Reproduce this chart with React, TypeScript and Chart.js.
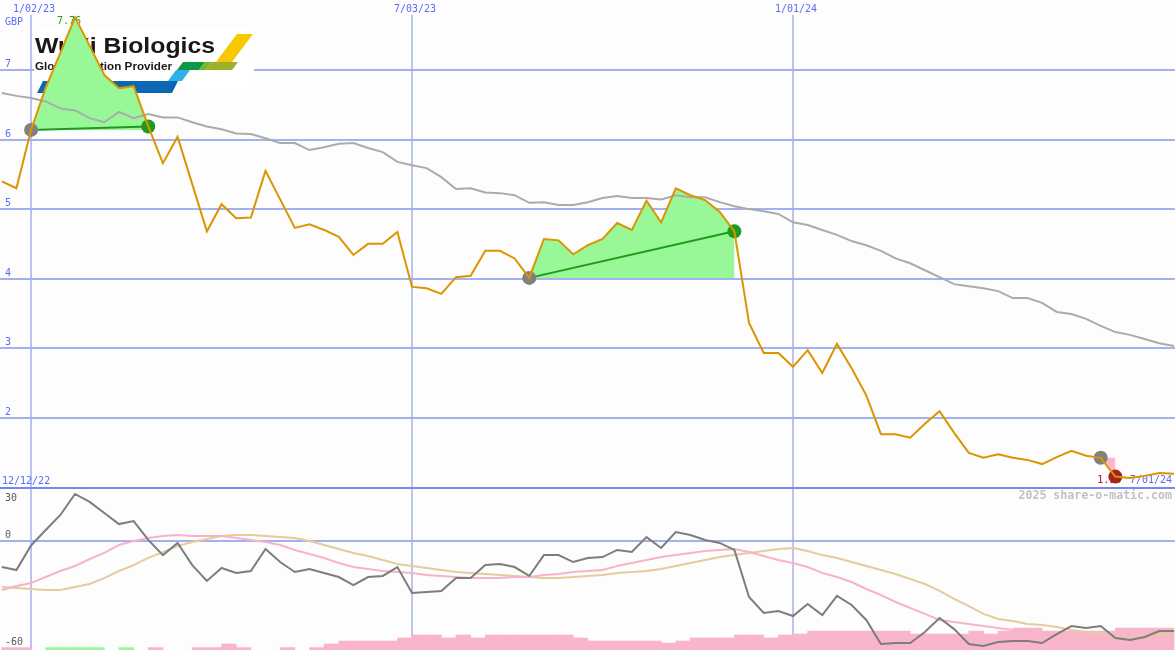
import React, { useEffect, useRef } from 'react';
import { Chart, registerables } from 'chart.js';

Chart.register(...registerables);

// ---------------- DATA ----------------
// weekly closes, first value is week -2 (weeks counted from 1/02/23)
const FIRST_WEEK = -2;

const price: number[] = [
  5.40, 5.30, 6.14, 6.75, 7.25, 7.76, 7.35, 6.93, 6.74, 6.77,
  6.19, 5.66, 6.04, 5.36, 4.68, 5.07, 4.87, 4.88, 5.55, 5.14,
  4.73, 4.78, 4.70, 4.60, 4.34, 4.50, 4.50, 4.67, 3.88, 3.86,
  3.78, 4.02, 4.04, 4.40, 4.40, 4.29, 4.01, 4.57, 4.55, 4.35,
  4.48, 4.57, 4.80, 4.70, 5.12, 4.81, 5.30, 5.20, 5.13, 4.96,
  4.68, 3.36, 2.93, 2.93, 2.73, 2.97, 2.64, 3.06, 2.71, 2.32,
  1.76, 1.76, 1.71, 1.91, 2.09, 1.78, 1.49, 1.42, 1.47, 1.42,
  1.39, 1.33, 1.43, 1.52, 1.45, 1.42, 1.15, 1.13, 1.16, 1.20,
  1.19,
];

const priceAverage: number[] = [
  6.67, 6.63, 6.60, 6.55, 6.45, 6.42, 6.31, 6.25, 6.40, 6.31,
  6.37, 6.32, 6.32, 6.25, 6.19, 6.15, 6.09, 6.08, 6.02, 5.95,
  5.95, 5.85, 5.89, 5.94, 5.95, 5.88, 5.82, 5.68, 5.63, 5.59,
  5.46, 5.29, 5.30, 5.24, 5.23, 5.20, 5.09, 5.10, 5.06, 5.06,
  5.10, 5.16, 5.19, 5.16, 5.16, 5.14, 5.20, 5.17, 5.17, 5.10,
  5.04, 5.00, 4.97, 4.93, 4.81, 4.77, 4.70, 4.63, 4.54, 4.48,
  4.40, 4.29, 4.22, 4.12, 4.02, 3.92, 3.89, 3.86, 3.82, 3.72,
  3.72, 3.65, 3.52, 3.49, 3.42, 3.32, 3.23, 3.19, 3.13, 3.07,
  3.03,
];

const oscillator: number[] = [
  -14.6, -16.3, -2.5, 6.2, 14.6, 26.4, 21.9, 15.7, 9.5, 11.2,
  0.6, -7.9, -1.1, -13.5, -22.4, -15.1, -17.9, -16.8, -4.5, -11.8,
  -17.4, -15.7, -17.9, -20.2, -24.7, -20.2, -19.6, -14.6, -29.2, -28.6,
  -28.0, -20.8, -20.8, -13.5, -12.9, -14.6, -19.6, -7.9, -7.9, -11.8,
  -9.5, -9.0, -5.0, -6.2, 2.2, -3.9, 5.0, 3.4, 0.6, -1.1,
  -5.0, -31.4, -40.4, -39.3, -42.1, -35.3, -41.5, -30.8, -35.9, -44.3,
  -57.8, -57.2, -57.2, -51.0, -43.2, -49.4, -57.8, -58.9, -56.6, -56.1,
  -56.1, -57.2, -52.2, -47.7, -48.8, -47.7, -54.4, -55.5, -53.8, -50.5,
  -50.5,
];

const oscSignal: number[] = [
  -27.5, -25.2, -23.6, -20.2, -16.8, -14.0, -10.1, -6.7, -2.2, 0.0,
  1.7, 2.8, 3.4, 2.8, 2.8, 2.8, 1.7, 0.6, -0.6, -2.2,
  -5.0, -7.3, -9.5, -12.3, -14.6, -15.7, -16.8, -17.4, -17.9, -19.1,
  -19.6, -20.2, -20.8, -20.8, -20.8, -20.2, -20.2, -19.1, -18.5, -17.4,
  -16.8, -16.3, -14.0, -12.3, -10.7, -9.0, -7.9, -6.7, -5.6, -5.0,
  -4.5, -6.2, -8.4, -10.7, -12.3, -14.6, -17.9, -20.2, -23.0, -26.9,
  -30.3, -34.2, -37.6, -40.9, -44.3, -45.4, -46.6, -47.7, -48.8, -49.9,
  -51.0, -51.6, -52.7, -53.8, -53.8, -54.4, -54.4, -54.4, -54.4, -53.8,
  -53.8,
];

const oscSlow: number[] = [
  -25.8, -26.4, -26.9, -27.5, -27.5, -25.8, -24.1, -20.8, -16.8, -13.5,
  -9.5, -6.2, -2.8, -0.6, 1.1, 2.8, 3.4, 3.4, 2.8, 2.2,
  1.7, 0.0, -2.2, -4.5, -6.7, -8.4, -10.7, -12.9, -14.0, -15.1,
  -16.3, -17.4, -17.9, -18.5, -19.1, -19.6, -20.2, -20.8, -20.8, -20.2,
  -19.6, -19.1, -17.9, -17.4, -16.8, -15.7, -14.0, -12.3, -10.7, -9.0,
  -7.9, -6.7, -5.6, -4.5, -3.9, -5.6, -7.9, -9.5, -11.8, -14.0,
  -16.3, -18.5, -21.3, -24.1, -28.0, -32.5, -36.5, -40.9, -43.7, -44.9,
  -46.6, -47.1, -48.2, -49.9, -51.0, -52.2, -53.3, -53.8, -53.3, -52.7,
  -52.2,
];

// weekly histogram (weeks -2..77): positive = pink, negative = green
const histogram: number[] = [
  0.8, 0.8, 0, -0.8, -0.8, -0.8, -0.8, 0, -0.8, 0,
  0.8, 0, 0, 0.8, 0.8, 2, 0.8, 0, 0, 0.8,
  0, 0.8, 2, 3, 3, 3, 3, 4, 5, 5,
  4, 5, 4, 5, 5, 5, 5, 5, 5, 4,
  3, 3, 3, 3, 3, 2.3, 3, 4, 4, 4,
  5, 5, 4, 5, 5.3, 6.3, 6.3, 6.3, 6.3, 6.3,
  6.3, 6.3, 5.3, 5.3, 5.3, 5.3, 6.3, 5.3, 6.3, 7.3,
  7.3, 6.3, 6.3, 6.3, 6.3, 6.3, 7.3, 7.3, 7.3, 7.3,
];

const xTickWeeks: number[] = [0, 26, 52];
const xTickLabels: string[] = ['1/02/23', '7/03/23', '1/01/24'];
const priceTicks: number[] = [2, 3, 4, 5, 6, 7];
const oscLabels: number[] = [30, 0, -60];
const oscGrid: number[] = [0];
const gainRanges: number[][] = [[0, 8], [34, 48]];
const lossRanges: number[][] = [[73, 74]];
const firstDateLabel = '12/12/22';
const lastDateLabel = '7/01/24';
const currency = 'GBP';
const watermark = '2025 share-o-matic.com';

// ---------------- STYLE ----------------
const W = 1175;
const TOP_H = 487;
const BOT_H = 163;
const X_MIN = -2.12;
const X_MAX = 78.07;
const PRICE_MIN = 1;
const PRICE_MAX = 8.01;
const OSC_MIN = -61.13;
const OSC_MAX = 30.29;
const HIST_MAX = 54.3;

const BG = '#fcfdfc';
const GRID = '#a4b1f1';
const DIVIDER = '#7686ec';
const LABEL = '#5b6cf0';
const GOLD = '#dc9400';
const MONO = '10px "DejaVu Sans Mono", monospace';
const MARKER_R = 7;

const weekOf = (i: number) => i + FIRST_WEEK;
const series = (arr: number[]) => arr.map((v, i) => ({ x: weekOf(i), y: v }));
const valAt = (arr: number[], w: number) => arr[w - FIRST_WEEK];

function poly(ctx: CanvasRenderingContext2D, color: string, p: number[][]) {
  ctx.fillStyle = color;
  ctx.beginPath();
  ctx.moveTo(p[0][0], p[0][1]);
  for (let i = 1; i < p.length; i++) ctx.lineTo(p[i][0], p[i][1]);
  ctx.closePath();
  ctx.fill();
}

function fitText(ctx: CanvasRenderingContext2D, text: string, x: number, y: number, width: number, font: string) {
  ctx.font = font;
  const w = ctx.measureText(text).width;
  ctx.save();
  ctx.translate(x, y);
  ctx.scale(width / w, 1);
  ctx.fillText(text, 0, 0);
  ctx.restore();
}

function drawLogo(ctx: CanvasRenderingContext2D) {
  ctx.save();
  ctx.fillStyle = '#ffffff';
  ctx.fillRect(34, 28, 220, 66);
  poly(ctx, '#0b67b3', [[43, 81], [178, 81], [172, 93], [37, 93]]);
  poly(ctx, '#2fb2e6', [[176, 70], [190, 70], [182, 81], [168, 81]]);
  poly(ctx, '#0a9945', [[183, 62], [205, 62], [199, 70], [177, 70]]);
  poly(ctx, '#7bb530', [[205, 62], [212, 62], [206, 70], [199, 70]]);
  poly(ctx, '#f7c800', [[237, 34], [253, 34], [232, 62], [216, 62]]);
  poly(ctx, '#9fae2b', [[212, 62], [238, 62], [232, 70], [206, 70]]);
  ctx.fillStyle = '#1c1815';
  ctx.textAlign = 'left';
  ctx.textBaseline = 'alphabetic';
  fitText(ctx, 'WuXi Biologics', 35, 53, 180, 'bold 22px "Liberation Sans", Arial, sans-serif');
  fitText(ctx, 'Global Solution Provider', 35, 70, 137, 'bold 11.5px "Liberation Sans", Arial, sans-serif');
  ctx.restore();
}

const paintBg = (chart: any) => {
  const { ctx, width, height } = chart;
  ctx.save();
  ctx.fillStyle = BG;
  ctx.fillRect(0, 0, width, height);
  ctx.restore();
};

const topDecor = {
  id: 'topDecor',
  beforeDraw: paintBg,
  beforeDatasetsDraw(chart: any) {
    const { ctx, width, height } = chart;
    const xs = chart.scales.x;
    const ys = chart.scales.y;
    ctx.save();
    ctx.strokeStyle = GRID;
    ctx.lineWidth = 2;
    for (const v of priceTicks) {
      const py = Math.round(ys.getPixelForValue(v));
      ctx.beginPath();
      ctx.moveTo(0, py);
      ctx.lineTo(width, py);
      ctx.stroke();
    }
    ctx.lineWidth = 1.5;
    for (const w of xTickWeeks) {
      const px = xs.getPixelForValue(w);
      ctx.beginPath();
      ctx.moveTo(px, 15);
      ctx.lineTo(px, height);
      ctx.stroke();
    }
    drawLogo(ctx);

    ctx.font = MONO;
    ctx.fillStyle = LABEL;
    ctx.textBaseline = 'alphabetic';
    ctx.textAlign = 'left';
    ctx.fillText(currency, 5, 25);
    for (const v of priceTicks) {
      ctx.fillText(String(v), 5, Math.round(ys.getPixelForValue(v)) - 3);
    }
    ctx.textAlign = 'center';
    xTickWeeks.forEach((w, k) => ctx.fillText(xTickLabels[k], xs.getPixelForValue(w) + 3, 12));
    ctx.textAlign = 'left';
    ctx.fillText(firstDateLabel, 2, height - 3);
    ctx.textAlign = 'right';
    ctx.fillText(lastDateLabel, width - 3, height - 4);

    // peak label
    let pk = 0;
    price.forEach((v, i) => { if (v > price[pk]) pk = i; });
    ctx.fillStyle = '#2b9b2b';
    ctx.textAlign = 'center';
    ctx.fillText(price[pk].toFixed(2), xs.getPixelForValue(weekOf(pk)) - 6, ys.getPixelForValue(price[pk]) + 7);

    // last loss label
    const lw = lossRanges[lossRanges.length - 1][1];
    ctx.fillStyle = '#a02020';
    ctx.textAlign = 'right';
    ctx.fillText(valAt(price, lw).toFixed(2), xs.getPixelForValue(lw) + 6, height - 4);
    ctx.restore();
  },
};

const bottomDecor = {
  id: 'bottomDecor',
  beforeDraw: paintBg,
  beforeDatasetsDraw(chart: any) {
    const { ctx, width, height } = chart;
    const xs = chart.scales.x;
    const ys = chart.scales.y;
    ctx.save();
    ctx.strokeStyle = GRID;
    ctx.lineWidth = 2;
    for (const v of oscGrid) {
      const py = Math.round(ys.getPixelForValue(v));
      ctx.beginPath();
      ctx.moveTo(0, py);
      ctx.lineTo(width, py);
      ctx.stroke();
    }
    ctx.lineWidth = 1.5;
    for (const w of xTickWeeks) {
      const px = xs.getPixelForValue(w);
      ctx.beginPath();
      ctx.moveTo(px, 0);
      ctx.lineTo(px, height);
      ctx.stroke();
    }
    ctx.fillStyle = DIVIDER;
    ctx.fillRect(0, 0, width, 2);

    ctx.font = MONO;
    ctx.fillStyle = '#5a5a5a';
    ctx.textAlign = 'left';
    ctx.textBaseline = 'alphabetic';
    for (const v of oscLabels) {
      const py = Math.round(ys.getPixelForValue(v));
      let by = py - 3;
      if (by - 8 < 2) by = py + 13;
      if (by > height - 2) by = height - 4;
      ctx.fillText(String(v), 5, by);
    }
    ctx.font = 'bold 11.6px "DejaVu Sans Mono", monospace';
    ctx.fillStyle = '#c2c2c2';
    ctx.textAlign = 'right';
    ctx.fillText(watermark, width - 3, 12);
    ctx.restore();
  },
};

const baseOptions = (yMin: number, yMax: number) => ({
  responsive: false,
  animation: false as const,
  devicePixelRatio: 1,
  events: [] as any[],
  layout: { padding: 0, autoPadding: false },
  plugins: { legend: { display: false }, tooltip: { enabled: false } },
  elements: { line: { tension: 0 }, point: { radius: 0 } },
  scales: {
    x: { type: 'linear' as const, display: false, min: X_MIN, max: X_MAX, offset: false },
    y: { type: 'linear' as const, display: false, min: yMin, max: yMax },
  } as any,
});

export default function App() {
  const topRef = useRef<HTMLCanvasElement>(null);
  const botRef = useRef<HTMLCanvasElement>(null);

  useEffect(() => {
    const priceSeries = series(price);
    const rangePts = (r: number[]) => priceSeries.filter(p => p.x >= r[0] && p.x <= r[1]);

    const fills = [
      ...gainRanges.map(r => ({ r, color: '#98f898' })),
      ...lossRanges.map(r => ({ r, color: '#ffb6c8' })),
    ].map(({ r, color }) => ({
      type: 'line',
      data: rangePts(r),
      borderWidth: 0,
      borderColor: 'rgba(0,0,0,0)',
      backgroundColor: color,
      pointRadius: 0,
      fill: { value: valAt(price, r[0]) },
      order: 5,
    }));

    const links = gainRanges.map(r => ({
      type: 'line',
      data: [
        { x: r[0], y: valAt(price, r[0]) },
        { x: r[1], y: valAt(price, r[1]) },
      ],
      borderColor: '#1f9a1f',
      borderWidth: 2,
      pointRadius: 0,
      fill: false,
      order: 3,
    }));

    const marker = (weeks: number[], color: string) => ({
      type: 'line',
      data: weeks.map(w => ({ x: w, y: valAt(price, w) })),
      showLine: false,
      pointRadius: MARKER_R,
      pointBackgroundColor: color,
      pointBorderWidth: 0,
      pointBorderColor: color,
      order: 2,
    });

    const top = new Chart(topRef.current as HTMLCanvasElement, {
      type: 'line',
      data: {
        datasets: [
          {
            data: priceSeries,
            borderColor: GOLD,
            borderWidth: 2,
            pointRadius: 0,
            fill: false,
            order: 1,
          },
          marker([...gainRanges, ...lossRanges].map(r => r[0]), '#808080'),
          marker(gainRanges.map(r => r[1]), '#1f9a1f'),
          marker(lossRanges.map(r => r[1]), '#a32222'),
          ...links,
          {
            data: series(priceAverage),
            borderColor: '#ababab',
            borderWidth: 2,
            pointRadius: 0,
            fill: false,
            order: 4,
          },
          ...fills,
        ] as any,
      },
      options: baseOptions(PRICE_MIN, PRICE_MAX) as any,
      plugins: [topDecor],
    });

    const histPts = (sign: number) =>
      histogram.map((v, k) => ({ x: weekOf(k), y: v * sign > 0 ? Math.abs(v) : null }));

    const botOpts: any = baseOptions(OSC_MIN, OSC_MAX);
    botOpts.scales.xb = { type: 'linear', display: false, min: X_MIN - 0.5, max: X_MAX - 0.5, offset: false, grid: { offset: false } };
    botOpts.scales.yh = { type: 'linear', display: false, min: 0, max: HIST_MAX };

    const bottom = new Chart(botRef.current as HTMLCanvasElement, {
      type: 'line',
      data: {
        datasets: [
          { data: series(oscillator), borderColor: '#7d7d7d', borderWidth: 2, pointRadius: 0, fill: false, order: 1 },
          { data: series(oscSignal), borderColor: '#f8b4c6', borderWidth: 2, pointRadius: 0, fill: false, order: 2 },
          { data: series(oscSlow), borderColor: '#e4cc9e', borderWidth: 2, pointRadius: 0, fill: false, order: 3 },
          {
            type: 'bar', data: histPts(1), xAxisID: 'xb', yAxisID: 'yh',
            backgroundColor: '#f9b5c9', borderWidth: 0, barPercentage: 1, categoryPercentage: 1,
            grouped: false, order: 5,
          },
          {
            type: 'bar', data: histPts(-1), xAxisID: 'xb', yAxisID: 'yh',
            backgroundColor: '#98f898', borderWidth: 0, barPercentage: 1, categoryPercentage: 1,
            grouped: false, order: 5,
          },
        ] as any,
      },
      options: botOpts,
      plugins: [bottomDecor],
    });

    return () => {
      top.destroy();
      bottom.destroy();
    };
  }, []);

  return (
    <div style={{ position: 'absolute', left: 0, top: 0, width: W, background: BG }}>
      <canvas ref={topRef} width={W} height={TOP_H} style={{ display: 'block' }} />
      <canvas ref={botRef} width={W} height={BOT_H} style={{ display: 'block' }} />
    </div>
  );
}
